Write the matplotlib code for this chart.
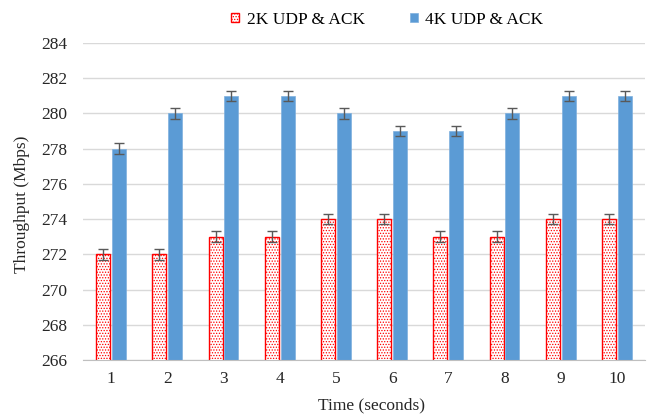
import numpy as np
import matplotlib
matplotlib.use("Agg")
from matplotlib import pyplot as plt

times = [1, 2, 3, 4, 5, 6, 7, 8, 9, 10]
udp_2k = [272, 272, 273, 273, 274, 274, 273, 273, 274, 274]
udp_4k = [278, 280, 281, 281, 280, 279, 279, 280, 281, 281]
err_2k = [0.3] * 10
err_4k = [0.3] * 10
labels = ["2K UDP & ACK", "4K UDP & ACK"]

plt.rcParams["font.family"] = ["Liberation Serif", "DejaVu Serif"]
plt.rcParams["hatch.linewidth"] = 0.6

fs = 12.5
fig = plt.figure(figsize=(6.52, 4.15), dpi=100)
ax = fig.add_axes([0.1273, 0.1325, 0.862, 0.764])

x = np.array(times)
w = 0.25
off = 0.14
err_kw = dict(ecolor="#595959", elinewidth=1, capsize=3.5, capthick=1)

b1 = ax.bar(x - off, udp_2k, w, facecolor="white", edgecolor="#FF0000",
            hatch="......", linewidth=1, yerr=err_2k, error_kw=err_kw,
            label=labels[0], zorder=2)
b2 = ax.bar(x + off, udp_4k, w, color="#5B9BD5", edgecolor="#7FB0DE",
            linewidth=0.5, yerr=err_4k, error_kw=err_kw, label=labels[1],
            zorder=2)

ax.set_xlim(0.5, 10.5)
ax.set_ylim(266, 284)
ax.set_yticks(np.arange(266, 285, 2))
ax.set_xticks(x)
ax.yaxis.grid(True, color="#D9D9D9", linewidth=1, zorder=0)
ax.set_axisbelow(True)
for s in ["top", "right", "left"]:
    ax.spines[s].set_visible(False)
ax.spines["bottom"].set_color("#BFBFBF")
ax.tick_params(length=0, labelsize=fs, colors="#262626")
ax.tick_params(axis="x", pad=8)
ax.tick_params(axis="y", pad=11)

ax.set_xlabel("Time (seconds)", fontsize=fs, color="#262626")
ax.set_ylabel("Throughput (Mbps)", fontsize=fs, color="#262626")
ax.xaxis.set_label_coords(0.514, -0.118)
ax.yaxis.set_label_coords(-0.094, 0.49)

fig.legend(handles=[b1, b2], labels=labels, loc="center",
           bbox_to_anchor=(0.594, 0.953), ncol=2, frameon=False,
           fontsize=fs, handlelength=0.45, handleheight=0.45,
           handletextpad=0.45, columnspacing=2.6)

fig.savefig("out.png", dpi=100)
